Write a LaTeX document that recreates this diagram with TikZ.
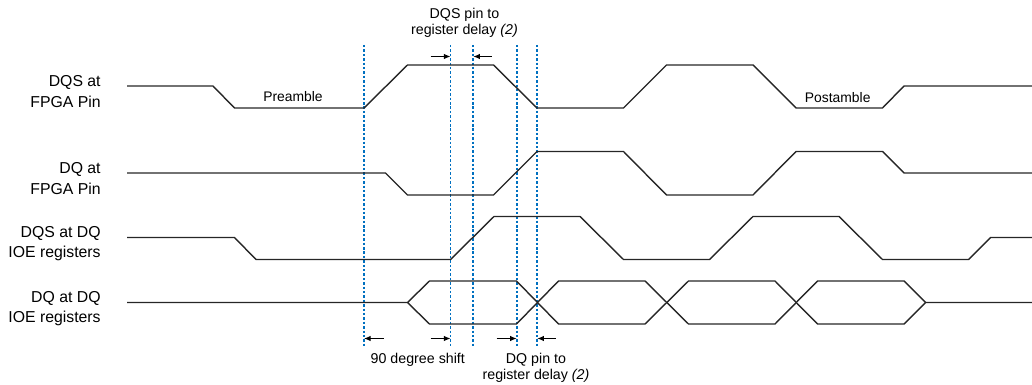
\documentclass[tikz,border=0pt]{standalone}
\usepackage{fontspec}
\setmainfont{Liberation Sans}
\usetikzlibrary{arrows.meta}
\definecolor{markblue}{RGB}{0,112,192}

\begin{document}
\begin{tikzpicture}[x=0.02cm,y=-0.02cm,
    signal/.style={line width=0.8pt,black!85,line join=miter},
    marker/.style={markblue,line width=1pt,dash pattern=on 1.4pt off 1.1pt},
    gap/.style={-{Latex[length=3.8pt,width=3.2pt]},line width=0.6pt},
    lbl/.style={align=right,anchor=east,inner sep=0pt,font=\fontsize{9}{11.7}\selectfont},
    note/.style={align=center,inner sep=0pt,font=\fontsize{8.1}{9.1}\selectfont},
    phase/.style={inner sep=0pt,font=\fontsize{7.9}{9}\selectfont}]
    \useasboundingbox (0,0) rectangle (1032,385);

    \node[lbl] (dqs_pin)  at (101,91.5) {DQS at\\FPGA Pin};
    \node[lbl] (dq_pin)   at (101,178.3) {DQ at\\FPGA Pin};
    \node[lbl] (dqs_ioe)  at (101,243.5) {DQS at DQ\\IOE registers};
    \node[lbl] (dq_ioe)   at (101,308.5) {DQ at DQ\\IOE registers};

    \foreach \n/\x in {m1/364,m2/450.5,m3/473.3,m4/516.7,m5/537.3}
        \draw[marker] (\x,45) coordinate (\n-top) -- (\x,346) coordinate (\n-bot);

    \draw[signal] (127,86) -- (213,86) -- (234.5,108) -- (364,108) -- (407.5,65)
        -- (493.5,65) -- (537,108) -- (623.5,108) -- (666.5,65) -- (753,65)
        -- (796,108) -- (882.5,108) -- (904,86) -- (1032,86);
    \draw[signal] (127,173) -- (385.5,173) -- (407.5,195) -- (493.5,195)
        -- (537,151.5) -- (623.5,151.5) -- (666.5,195) -- (753,195) -- (796,151.5)
        -- (882.5,151.5) -- (904,173) -- (1032,173);
    \draw[signal] (127,237.5) -- (234.5,237.5) -- (256,259.5) -- (450.5,259.5)
        -- (494,216.5) -- (580,216.5) -- (623.5,259.5) -- (709.5,259.5)
        -- (753,216.5) -- (839,216.5) -- (882.5,259.5) -- (968.5,259.5)
        -- (990.5,237.5) -- (1032,237.5);
    \draw[signal] (127,302.5) -- (407.5,302.5) -- (429.5,281) -- (516.5,281)
        -- (558.5,324) -- (645,324) -- (688.5,281) -- (775,281) -- (817.5,324)
        -- (904,324) -- (925.5,302.5) -- (1032,302.5);
    \draw[signal] (407.5,302.5) -- (429.5,324) -- (516.5,324) -- (558.5,281)
        -- (645,281) -- (688.5,324) -- (775,324) -- (817.5,281) -- (904,281)
        -- (925.5,302.5);

    \node[phase] (pre)  at (293,96.2) {Preamble};
    \node[phase] (post) at (837.7,98) {Postamble};

    \node[note] (dqs_delay) at (464.5,23.2) {DQS pin to\\register delay \textit{(2)}};
    \node[note] (shift)     at (417.8,359.5) {90 degree shift};
    \node[note] (dq_delay)  at (536,367.5) {DQ pin to\\register delay \textit{(2)}};

    \draw[gap] ([xshift=-0.4cm,yshift=-0.23cm]m2-top) -- ([yshift=-0.23cm]m2-top);
    \draw[gap] ([xshift=0.37cm,yshift=-0.23cm]m3-top) -- ([yshift=-0.23cm]m3-top);
    \draw[gap] ([xshift=0.4cm,yshift=0.15cm]m1-bot) -- ([yshift=0.15cm]m1-bot);
    \draw[gap] ([xshift=-0.4cm,yshift=0.15cm]m2-bot) -- ([yshift=0.15cm]m2-bot);
    \draw[gap] ([xshift=-0.4cm,yshift=0.15cm]m4-bot) -- ([yshift=0.15cm]m4-bot);
    \draw[gap] ([xshift=0.37cm,yshift=0.15cm]m5-bot) -- ([yshift=0.15cm]m5-bot);
\end{tikzpicture}
\end{document}
